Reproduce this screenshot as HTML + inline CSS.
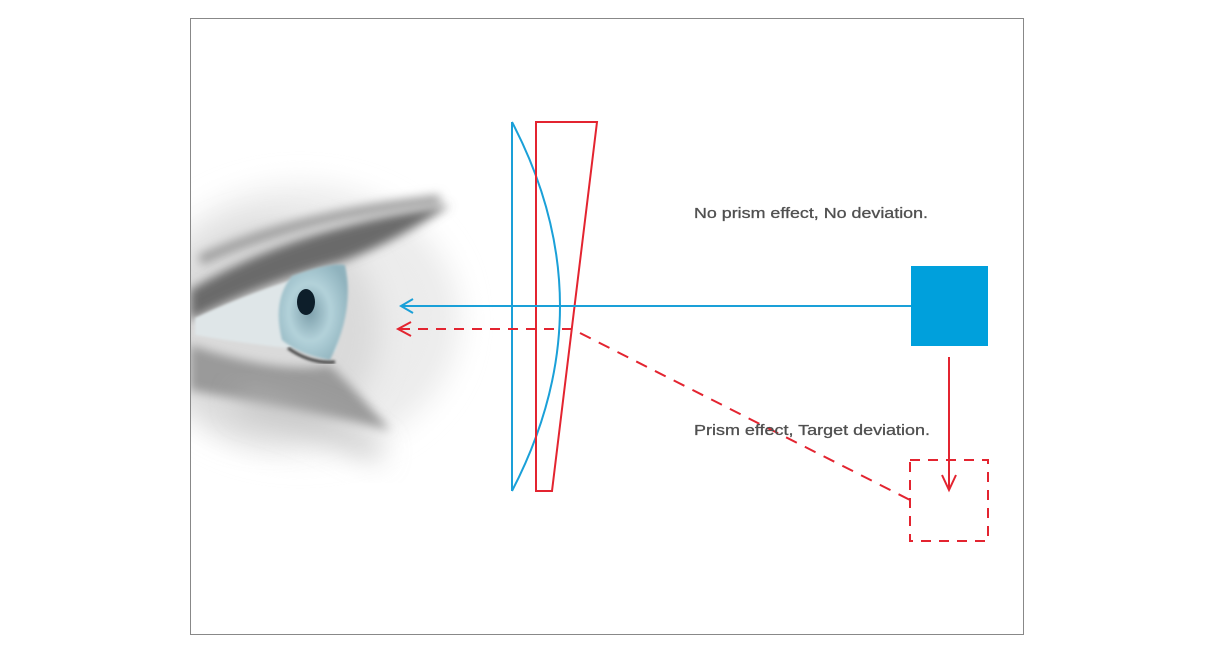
<!DOCTYPE html>
<html><head><meta charset="utf-8"><style>
html,body{margin:0;padding:0;background:#fff;}
svg{display:block;}
</style></head><body>
<svg width="1218" height="652" viewBox="0 0 1218 652" xmlns="http://www.w3.org/2000/svg">
<defs>
<filter id="b8" x="-50%" y="-50%" width="200%" height="200%"><feGaussianBlur stdDeviation="14"/></filter>
<filter id="b5" x="-50%" y="-50%" width="200%" height="200%"><feGaussianBlur stdDeviation="5"/></filter>
<filter id="b3" x="-50%" y="-50%" width="200%" height="200%"><feGaussianBlur stdDeviation="3"/></filter>
<filter id="b1"><feGaussianBlur stdDeviation="1.2"/></filter>
<radialGradient id="iris" cx="0.45" cy="0.5" r="0.6">
<stop offset="0" stop-color="#7d9fab"/><stop offset="0.5" stop-color="#b3d2da"/><stop offset="1" stop-color="#8fb2bd"/></radialGradient>
<clipPath id="fr"><rect x="191" y="19" width="832" height="615"/></clipPath>
</defs>
<rect x="190.5" y="18.5" width="833" height="616" fill="#fff" stroke="#888" stroke-width="1"/>
<g clip-path="url(#fr)">
<ellipse cx="300" cy="320" rx="160" ry="135" fill="#ececec" filter="url(#b8)"/>
<ellipse cx="270" cy="330" rx="110" ry="110" fill="#dadada" filter="url(#b8)"/>
<!-- upper lid / lashes -->
<path d="M190 290 Q300 225 450 205 Q390 245 340 262 Q270 280 190 320Z" fill="#6a6a6a" filter="url(#b5)"/>
<path d="M200 260 Q300 215 440 200" stroke="#999" stroke-width="10" fill="none" filter="url(#b5)"/>
<!-- lower lid -->
<path d="M190 345 Q280 375 330 365 Q360 395 390 430 Q300 410 190 390Z" fill="#9a9a9a" filter="url(#b5)"/>
<path d="M240 400 Q320 420 380 455" stroke="#bbb" stroke-width="14" fill="none" filter="url(#b8)"/>
<!-- eye white -->
<path d="M195 318 Q260 288 320 272 Q350 300 335 352 Q270 348 195 335Z" fill="#dfe6e8" filter="url(#b1)"/>
<!-- iris -->
<path d="M292 276 Q330 262 345 265 Q355 310 330 360 Q300 355 282 340 Q272 300 292 276Z" fill="url(#iris)" filter="url(#b1)"/>
<ellipse cx="306" cy="302" rx="9" ry="13" fill="#0d1e2a"/>
<path d="M288 348 Q310 364 335 362" stroke="#444" stroke-width="3" fill="none" filter="url(#b1)"/>
</g>
<!-- lens -->
<line x1="512" y1="122" x2="512" y2="491" stroke="#1aa0d8" stroke-width="2"/>
<path d="M512 122 Q608 306 512 491" stroke="#1aa0d8" stroke-width="2" fill="none"/>
<path d="M536 122 L597 122 L552 491 L536 491Z" stroke="#e32430" stroke-width="2" fill="none"/>
<!-- blue ray -->
<line x1="401" y1="306" x2="911" y2="306" stroke="#1aa0d8" stroke-width="2"/>
<path d="M413 299 L401 306 L413 313" stroke="#1aa0d8" stroke-width="2" fill="none"/>
<rect x="911" y="266" width="77" height="80" fill="#00a0dc"/>
<!-- red ray -->
<line x1="572" y1="329" x2="400" y2="329" stroke="#e32430" stroke-width="2" stroke-dasharray="10 8"/>
<path d="M411 322 L398 329 L411 336" stroke="#e32430" stroke-width="2" fill="none"/>
<line x1="580" y1="333" x2="910" y2="500" stroke="#e32430" stroke-width="2" stroke-dasharray="12 9"/>
<rect x="910" y="460" width="78" height="81" fill="none" stroke="#e32430" stroke-width="2" stroke-dasharray="10 8"/>
<line x1="949" y1="357" x2="949" y2="488" stroke="#e32430" stroke-width="2"/>
<path d="M942 475 L949 490 L956 475" stroke="#e32430" stroke-width="2" fill="none"/>
<!-- text -->
<text x="694" y="218" font-family="Liberation Sans, sans-serif" font-size="15" fill="#505050" stroke="#505050" stroke-width="0.3" textLength="234" lengthAdjust="spacingAndGlyphs">No prism effect, No deviation.</text>
<text x="694" y="435" font-family="Liberation Sans, sans-serif" font-size="15" fill="#505050" stroke="#505050" stroke-width="0.3" textLength="236" lengthAdjust="spacingAndGlyphs">Prism effect, Target deviation.</text>
</svg>
</body></html>
